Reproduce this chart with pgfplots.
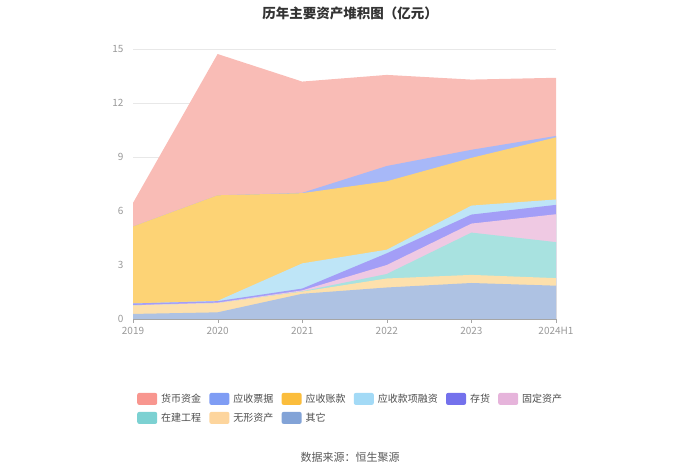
\documentclass[border=0pt]{standalone}
\usepackage{fontspec}
\setmainfont{Noto Sans CJK SC}
\usepackage{pgfplots}
\usepackage{pgfplotstable}
\pgfplotsset{compat=1.18}
\definecolor{aA}{HTML}{F9BCB6}\definecolor{lA}{HTML}{F8968F}
\definecolor{aB}{HTML}{A7B8F8}\definecolor{lB}{HTML}{7F9DF4}
\definecolor{aC}{HTML}{FDD375}\definecolor{lC}{HTML}{FBBD3C}
\definecolor{aD}{HTML}{BEE5F7}\definecolor{lD}{HTML}{A3DAF6}
\definecolor{aE}{HTML}{A39EF7}\definecolor{lE}{HTML}{7471EC}
\definecolor{aF}{HTML}{EFC9E3}\definecolor{lF}{HTML}{E6B4DB}
\definecolor{aG}{HTML}{A8E2E0}\definecolor{lG}{HTML}{7CD1D2}
\definecolor{aH}{HTML}{FDE0AC}\definecolor{lH}{HTML}{FDD59D}
\definecolor{aI}{HTML}{AEC2E3}\definecolor{lI}{HTML}{82A3D7}
\definecolor{txt}{HTML}{999999}
% cumulative tops (bottom series first): qita, wuxing, zaijian, guding, cunhuo, rongzi, zhangkuan, piaoju, huobi
\pgfplotstableread{
x c1 c2 c3 c4 c5 c6 c7 c8 c9
0 0.28 0.75 0.75 0.77 0.86 0.86 5.14 5.14 6.45
1 0.37 0.88 0.88 0.91 0.99 1.01 6.87 6.87 14.72
2 1.40 1.52 1.54 1.59 1.69 3.09 6.99 7.01 13.19
3 1.75 2.25 2.50 3.00 3.65 3.85 7.65 8.50 13.56
4 2.00 2.45 4.80 5.30 5.80 6.30 8.95 9.40 13.30
5 1.85 2.27 4.27 5.82 6.34 6.64 10.09 10.17 13.40
}\data
\pgfplotsset{lg/.style={legend image code/.code={\fill[#1,rounded corners=2bp] (0bp,-6bp) rectangle (20bp,6bp);}}}
\begin{document}
\begin{tikzpicture}[x=1bp,y=1bp]
\path (0,0) rectangle (700,474);
\node[font=\fontsize{13.5bp}{15bp}\selectfont\bfseries, text=black!80] at (350,461) {历年主要资产堆积图（亿元）};
\node[font=\fontsize{11bp}{13bp}\selectfont, text=black!65] at (350,17) {数据来源：恒生聚源};
\begin{axis}[
  at={(133bp,155bp)}, anchor=south west,
  scale only axis, width=423bp, height=270bp,
  xmin=0, xmax=5, ymin=0, ymax=15,
  xtick={0,1,2,3,4,5},
  xticklabels={2019,2020,2021,2022,2023,2024H1},
  ytick={0,3,6,9,12,15},
  axis lines*=left,
  x axis line style={draw=black!35},
  y axis line style={draw=none},
  ytick style={draw=none},
  xtick style={draw=black!35},
  tick align=outside, major tick length=4bp,
  ymajorgrids, grid style={draw=black!9, line width=0.6bp},
  /pgf/number format/assume math mode=true,
  tick label style={font=\fontsize{10bp}{12bp}\selectfont, text=txt},
  yticklabel style={xshift=-2bp},
  xticklabel style={yshift=-1bp},
  legend columns=6,
  legend style={draw=none, fill=none, inner sep=0pt,
    at={(axis description cs:0.0095,-0.273)}, anchor=north west,
    font=\fontsize{10bp}{12bp}\selectfont, text=black!70,
    nodes={inner xsep=4bp, inner ysep=1bp},
    row sep=7bp,
    /tikz/every even column/.append style={column sep=4.2bp}},
  legend cell align=left,
]
\addplot[draw=none, fill=aA, lg=lA] table[x=x,y=c9]{\data} \closedcycle;
\addlegendentry{货币资金}
\addplot[draw=none, fill=aB, lg=lB] table[x=x,y=c8]{\data} \closedcycle;
\addlegendentry{应收票据}
\addplot[draw=none, fill=aC, lg=lC] table[x=x,y=c7]{\data} \closedcycle;
\addlegendentry{应收账款}
\addplot[draw=none, fill=aD, lg=lD] table[x=x,y=c6]{\data} \closedcycle;
\addlegendentry{应收款项融资}
\addplot[draw=none, fill=aE, lg=lE] table[x=x,y=c5]{\data} \closedcycle;
\addlegendentry{存货}
\addplot[draw=none, fill=aF, lg=lF] table[x=x,y=c4]{\data} \closedcycle;
\addlegendentry{固定资产}
\addplot[draw=none, fill=aG, lg=lG] table[x=x,y=c3]{\data} \closedcycle;
\addlegendentry{在建工程}
\addplot[draw=none, fill=aH, lg=lH] table[x=x,y=c2]{\data} \closedcycle;
\addlegendentry{无形资产}
\addplot[draw=none, fill=aI, lg=lI] table[x=x,y=c1]{\data} \closedcycle;
\addlegendentry{其它}
\end{axis}
\end{tikzpicture}
\end{document}
